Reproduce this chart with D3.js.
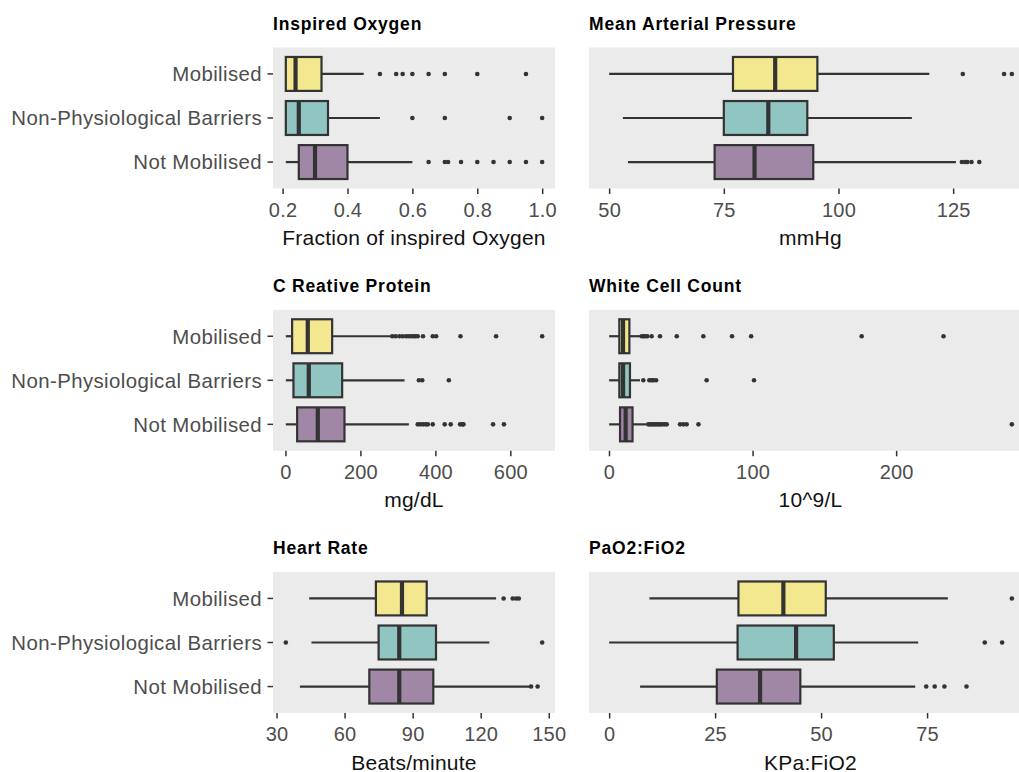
<!DOCTYPE html>
<html>
<head>
<meta charset="utf-8" />
<title>Mobilisation boxplots</title>
<script src="https://d3js.org/d3.v7.min.js"></script>
<style>
  body { margin: 0; background: white; }
  svg { display: block; font-family: "Liberation Sans", Arial, Helvetica, sans-serif; }
</style>
</head>
<body>
<svg id="chart" width="1019" height="772"></svg>
<script>
// groups, top to bottom
var groups = ["Mobilised", "Non-Physiological Barriers", "Not Mobilised"];
var fills = ["#f3e78f", "#90c5c2", "#a187a6"];

// each row: [lower whisker, Q1, median, Q3, upper whisker]
var fio2Stats = [[0.21, 0.21, 0.24, 0.32, 0.45], [0.21, 0.21, 0.25, 0.34, 0.50], [0.21, 0.25, 0.30, 0.40, 0.60]];
var fio2Out = [[0.50, 0.55, 0.57, 0.60, 0.65, 0.70, 0.80, 0.95], [0.60, 0.70, 0.90, 1.00], [0.65, 0.70, 0.71, 0.75, 0.80, 0.85, 0.90, 0.95, 1.00]];
var fio2Ticks = [0.2, 0.4, 0.6, 0.8, 1.0];

var mapStats = [[50, 77, 86.2, 95.4, 119.8], [53, 75, 84.7, 93.2, 116], [54.1, 73, 81.7, 94.5, 125.6]];
var mapOut = [[127.1, 136.1, 137.8], [], [126.9, 127.6, 128.1, 129, 130.7]];
var mapTicks = [50, 75, 100, 125];

var crpStats = [[1, 17.8, 59.6, 124.6, 282], [1, 21.4, 62.3, 151.3, 317.8], [1, 31.2, 86.3, 157.5, 329.3]];
var crpOut = [[285, 294, 304, 313, 322, 329, 336, 342, 347, 353, 367, 393, 402, 467, 562, 685],
              [356, 365, 436],
              [353, 360, 367, 374, 380, 393, 425, 441, 466, 472, 475, 554, 583]];
var crpTicks = [0, 200, 400, 600];

var wccStats = [[0.1, 7.2, 9.8, 14.2, 21.6], [0.1, 7.2, 9.8, 14.6, 21.6], [0.1, 7.7, 11.6, 16.4, 26.2]];
var wccOut = [[22.8, 24, 25.2, 26.7, 29.7, 35.5, 47.2, 65.7, 85.7, 99, 176, 233],
              [23.9, 28.1, 29.7, 30.9, 32.8, 68, 101],
              [27.4, 28.6, 29.8, 31, 32.2, 33.4, 34.6, 35.8, 37, 38.6, 40.2, 49.5, 51.8, 54.1, 62.3, 280.6]];
var wccTicks = [0, 100, 200];

var hrStats = [[44.4, 73.8, 85.3, 96.2, 126.8], [45.4, 75, 84.1, 100.3, 123.8], [40.3, 70.9, 84.1, 99.1, 141.8]];
var hrOut = [[130.1, 134.1, 135.6, 136.8], [34.1, 147.1], [142.2, 145.1]];
var hrTicks = [30, 60, 90, 120, 150];

var pfStats = [[9.5, 30.5, 41.1, 51.1, 79.9], [0, 30.3, 44.1, 53, 72.9], [7.3, 25.4, 35.6, 45.1, 72.2]];
var pfOut = [[95], [88.6, 92.7], [74.8, 76.8, 79.1, 84.3]];
var pfTicks = [0, 25, 50, 75];

var panels = [
  { title: "Inspired Oxygen", unit: "Fraction of inspired Oxygen", stats: fio2Stats, out: fio2Out, ticks: fio2Ticks, fmt: d3.format(".1f"), col: 0, row: 0 },
  { title: "Mean Arterial Pressure", unit: "mmHg", stats: mapStats, out: mapOut, ticks: mapTicks, fmt: d3.format("d"), col: 1, row: 0 },
  { title: "C Reative Protein", unit: "mg/dL", stats: crpStats, out: crpOut, ticks: crpTicks, fmt: d3.format("d"), col: 0, row: 1 },
  { title: "White Cell Count", unit: "10^9/L", stats: wccStats, out: wccOut, ticks: wccTicks, fmt: d3.format("d"), col: 1, row: 1 },
  { title: "Heart Rate", unit: "Beats/minute", stats: hrStats, out: hrOut, ticks: hrTicks, fmt: d3.format("d"), col: 0, row: 2 },
  { title: "PaO2:FiO2", unit: "KPa:FiO2", stats: pfStats, out: pfOut, ticks: pfTicks, fmt: d3.format("d"), col: 1, row: 2 }
];

// panel frames (the right column runs past the picture edge, as in the original)
var colX = [273, 589];
var colW = [282, 443];
var rowY = [47.5, 309.8, 572];
var panelH = 141;
var ink = "#333333";

var svg = d3.select("#chart");

panels.forEach(function(p) {
  var x0 = colX[p.col], y0 = rowY[p.row], w = colW[p.col];
  var g = svg.append("g").attr("transform", "translate(" + x0 + "," + y0 + ")");

  // ggplot style 5% expansion of the data range
  var all = d3.merge(p.stats.concat(p.out));
  var lo = d3.min(all), hi = d3.max(all), pad = (hi - lo) * 0.05;
  var x = d3.scaleLinear().domain([lo - pad, hi + pad]).range([0, w]);
  // discrete axis: 3 levels with 0.6 added on each end
  var y = d3.scaleLinear().domain([0.4, 3.6]).range([0, panelH]);
  var step = panelH / 3.2;
  var bh = step * 0.77;

  g.append("rect").attr("width", w).attr("height", panelH).attr("fill", "#ebebeb");

  groups.forEach(function(name, i) {
    var s = p.stats[i];
    var cy = y(i + 1);
    var row = g.append("g");
    // whiskers
    row.append("line").attr("x1", x(s[0])).attr("x2", x(s[1])).attr("y1", cy).attr("y2", cy)
      .attr("stroke", ink).attr("stroke-width", 2.2);
    row.append("line").attr("x1", x(s[3])).attr("x2", x(s[4])).attr("y1", cy).attr("y2", cy)
      .attr("stroke", ink).attr("stroke-width", 2.2);
    // box
    row.append("rect").attr("x", x(s[1])).attr("y", cy - bh / 2)
      .attr("width", x(s[3]) - x(s[1])).attr("height", bh)
      .attr("fill", fills[i]).attr("stroke", ink).attr("stroke-width", 2.2);
    // median
    row.append("line").attr("x1", x(s[2])).attr("x2", x(s[2]))
      .attr("y1", cy - bh / 2).attr("y2", cy + bh / 2)
      .attr("stroke", ink).attr("stroke-width", 4.2);
    // outliers
    row.selectAll("circle").data(p.out[i]).enter().append("circle")
      .attr("cx", function(d) { return x(d); }).attr("cy", cy).attr("r", 2.3)
      .attr("fill", ink);

    if (p.col === 0) {
      g.append("line").attr("x1", -5.5).attr("x2", 0).attr("y1", cy).attr("y2", cy)
        .attr("stroke", ink).attr("stroke-width", 1.5);
      g.append("text").attr("x", -11).attr("y", cy).attr("dy", "0.36em")
        .attr("text-anchor", "end").attr("font-size", "20.4px").attr("letter-spacing", "0.4px")
        .attr("fill", "#4d4d4d")
        .text(name);
    }
  });

  // x axis
  var ax = g.append("g").attr("transform", "translate(0," + panelH + ")")
    .call(d3.axisBottom(x).tickValues(p.ticks).tickFormat(p.fmt).tickSize(5.5).tickPadding(8.3));
  ax.select(".domain").remove();
  ax.selectAll(".tick line").attr("stroke", ink).attr("stroke-width", 1.5);
  ax.selectAll(".tick text").attr("font-size", "20px").attr("letter-spacing", "0.2px")
    .attr("fill", "#4d4d4d")
    .attr("font-family", "Liberation Sans, Arial, sans-serif");

  g.append("text").attr("x", p.col === 1 ? x((lo + hi) / 2) : w / 2).attr("y", panelH + 56.5)
    .attr("text-anchor", "middle").attr("font-size", "21px").attr("letter-spacing", "0.25px")
    .attr("fill", "#111")
    .text(p.unit);

  g.append("text").attr("x", 0).attr("y", -18).attr("font-size", "17.5px").attr("letter-spacing", "0.8px")
    .attr("font-weight", "bold").attr("fill", "#000").text(p.title);
});
</script>
</body>
</html>
